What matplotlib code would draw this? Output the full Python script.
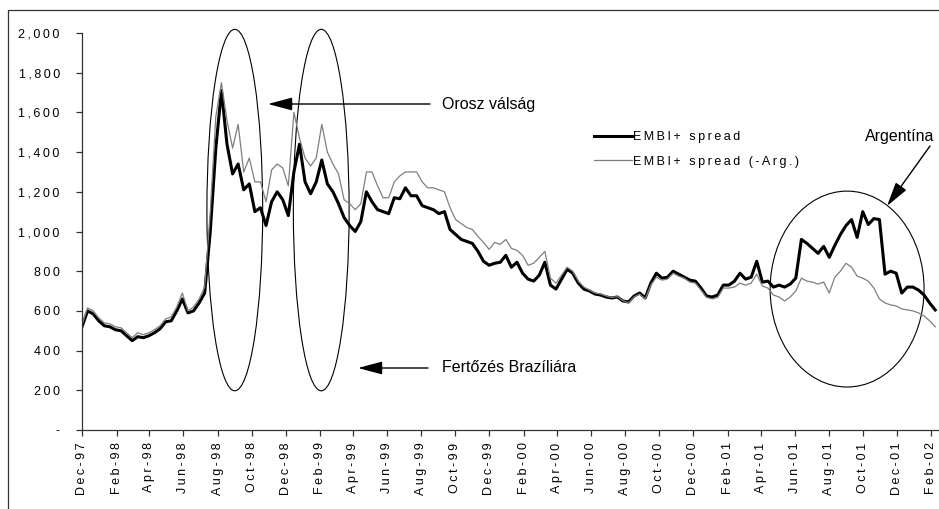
import matplotlib
matplotlib.use("Agg")
import matplotlib.pyplot as plt
import matplotlib.dates as mdates
from matplotlib.patches import Ellipse, Rectangle
from matplotlib.ticker import FuncFormatter, MultipleLocator
from matplotlib.transforms import ScaledTranslation
import pandas as pd

# ---------- DATA (one point every 10 days from 1 Dec 1997) ----------
start_date = "1997-12-01"
step = "10D"

embi_spread = [
    520, 600, 585, 550, 525, 520, 505, 500, 475, 450,
    470, 465, 475, 490, 510, 545, 550, 600, 660, 590,
    600, 640, 690, 1000, 1420, 1710, 1440, 1290, 1340, 1210,
    1240, 1100, 1120, 1030, 1150, 1200, 1160, 1080, 1300, 1440,
    1250, 1190, 1250, 1360, 1240, 1200, 1140, 1070, 1030, 1000,
    1050, 1200, 1150, 1110, 1100, 1090, 1170, 1165, 1220, 1180,
    1180, 1130, 1120, 1110, 1090, 1100, 1010, 985, 960, 950,
    940, 900, 850, 830, 840, 845, 880, 820, 845, 790,
    760, 750, 780, 845, 730, 710, 760, 810, 790, 740,
    710, 700, 685, 680, 670, 665, 670, 650, 645, 675,
    690, 665, 740, 790, 765, 770, 800, 785, 770, 755,
    750, 715, 675, 670, 680, 730, 730, 750, 790, 760,
    770, 850, 745, 750, 720, 730, 720, 735, 765, 960,
    940, 915, 890, 925, 870, 930, 985, 1030, 1060, 970,
    1100, 1035, 1065, 1060, 785, 800, 790, 690, 720, 720,
    705, 680, 640, 605,
]

embi_spread_ex_arg = [
    530, 615, 600, 565, 540, 535, 520, 515, 490, 465,
    490, 480, 490, 505, 525, 560, 570, 620, 690, 600,
    620, 660, 720, 1100, 1580, 1750, 1560, 1420, 1540, 1300,
    1370, 1250, 1250, 1150, 1310, 1340, 1320, 1230, 1600, 1470,
    1370, 1330, 1370, 1540, 1400, 1340, 1290, 1160, 1140, 1110,
    1140, 1300, 1300, 1230, 1170, 1170, 1250, 1280, 1300, 1300,
    1300, 1250, 1220, 1220, 1210, 1200, 1120, 1060, 1040, 1020,
    1010, 975, 945, 910, 945, 935, 960, 915, 905, 880,
    830, 840, 870, 900, 765, 740, 780, 820, 800, 750,
    720, 705, 690, 685, 675, 668, 672, 652, 640, 670,
    685, 660, 730, 770, 755, 760, 790, 775, 765, 745,
    740, 705, 668, 660, 668, 715, 715, 720, 740, 730,
    740, 785, 725, 715, 680, 670, 650, 670, 700, 765,
    750, 745, 735, 745, 690, 770, 800, 840, 820, 775,
    765, 750, 715, 660, 640, 630, 625, 610, 605, 600,
    590, 575, 550, 520,
]

label_black = "EMBI+ spread"
label_gray = "EMBI+ spread (-Arg.)"
# ----------------------------------------------------------------------------------------

W, H = 939, 509
THIN = "\u2009"


def spaced(s):
    # the original labels are letter-spaced
    return THIN.join(s)


def px(x, y):
    # image pixel (top-left origin) -> figure fraction
    return (x / W, 1 - y / H)


plt.rcParams["font.family"] = ["Liberation Sans", "DejaVu Sans"]

dates = pd.date_range(start_date, periods=len(embi_spread), freq=step)

fig = plt.figure(figsize=(W / 100, H / 100), dpi=100)
ax = fig.add_axes([82 / W, 1 - 430 / H, (938 - 82) / W, (430 - 33) / H])

line_b, = ax.plot(dates, embi_spread, color="black", lw=2.2, solid_joinstyle="round")
line_g, = ax.plot(dates, embi_spread_ex_arg, color="#7f7f7f", lw=0.9)

ax.set_ylim(0, 2000)
ax.set_xlim(pd.Timestamp("1997-12-01"), pd.Timestamp("2002-02-13"))

for s in ["top", "right"]:
    ax.spines[s].set_visible(False)
for s in ["left", "bottom"]:
    ax.spines[s].set_color("#333333")
    ax.spines[s].set_linewidth(0.9)

# y axis
ax.yaxis.set_major_locator(MultipleLocator(200))
ax.yaxis.set_major_formatter(FuncFormatter(lambda v, p: "-" if v == 0 else spaced(f"{v:,.0f}")))
ax.tick_params(axis="y", length=4, width=0.9, color="#333333", pad=12, labelsize=9)

# x axis: every second month
ax.xaxis.set_major_locator(mdates.MonthLocator(bymonth=[2, 4, 6, 8, 10, 12]))
ax.xaxis.set_major_formatter(FuncFormatter(lambda v, p: spaced(mdates.num2date(v).strftime("%b-%y"))))
ax.tick_params(axis="x", length=4, width=0.9, color="#333333", pad=5, labelsize=9, labelrotation=90)

fig.canvas.draw()
zero_lbl = ax.get_yticklabels()[0]
zero_lbl.set_transform(zero_lbl.get_transform() + ScaledTranslation(-18 / 100, 0, fig.dpi_scale_trans))

# ellipses around the crisis episodes
ell_kw = dict(fill=False, edgecolor="black", lw=0.8, clip_on=False)
for center, value, width, height in [
    ("1998-09-01", 1108, 100, 1821),
    ("1999-02-03", 1108, 100, 1821),
    ("2001-09-03", 710, 276, 987),
]:
    ax.add_patch(Ellipse((mdates.date2num(pd.Timestamp(center)), value), width, height, **ell_kw))

# annotations
arrow_kw = dict(arrowstyle="-|>,head_length=1.5,head_width=0.4", color="black", lw=1.0,
                mutation_scale=10, shrinkA=0, shrinkB=0)
fig.add_artist(matplotlib.patches.FancyArrowPatch(px(430, 104), px(268, 104),
                                                  transform=fig.transFigure, **arrow_kw))
fig.text(*px(442, 104), "Orosz válság", fontsize=11.5, ha="left", va="center")

fig.add_artist(matplotlib.patches.FancyArrowPatch(px(428, 368), px(358, 368),
                                                  transform=fig.transFigure, **arrow_kw))
fig.text(*px(442, 368), "Fertőzés Brazíliára", fontsize=11.5, ha="left", va="center")

fig.add_artist(matplotlib.patches.FancyArrowPatch(px(930, 146), px(887, 206),
                                                  transform=fig.transFigure, **arrow_kw))
fig.text(*px(900, 137), "Argentína", fontsize=11.5, ha="center", va="center")

# legend
fig.legend([line_b, line_g], [spaced(label_black), spaced(label_gray)],
           loc="upper left", bbox_to_anchor=px(594, 131), bbox_transform=fig.transFigure,
           frameon=False, fontsize=9, handlelength=3.0, handletextpad=0.15,
           labelspacing=1.0, borderpad=0, borderaxespad=0)

# outer frame
fig.add_artist(Rectangle(px(8, 520), 1.0, (520 - 10) / H, transform=fig.transFigure,
                         fill=False, edgecolor="#333333", lw=0.9))

fig.savefig("out.png", dpi=100)
